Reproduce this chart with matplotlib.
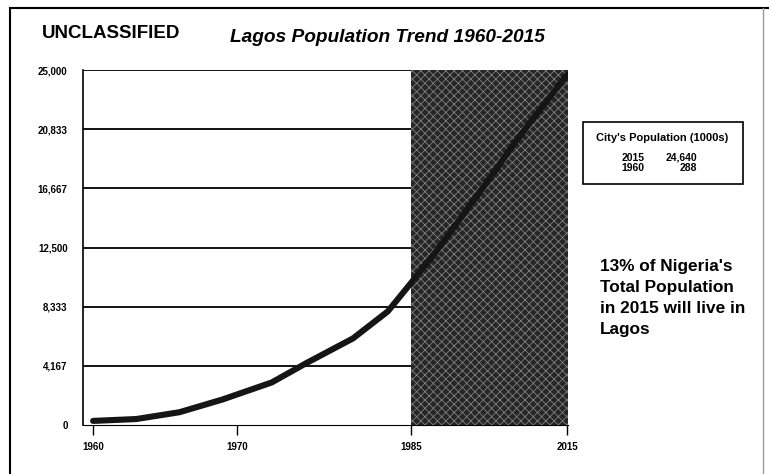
import matplotlib.pyplot as plt
import numpy as np
from matplotlib.patches import Rectangle
from matplotlib.lines import Line2D

# data (population in 1000s)
years = [1960, 1963, 1966, 1969, 1973, 1976, 1980, 1983, 1985, 1990, 1995, 2000, 2005, 2010, 2015]
pop = [288, 420, 900, 1800, 3000, 4370, 6100, 8000, 10000, 12300, 14800, 17300, 19900, 22300, 24640]
xticks = [1960, 1970, 1985, 2015]
yticks = [0, 4167, 8333, 12500, 16667, 20833, 25000]
ytick_labels = ["0", "4,167", "8,333", "12,500", "16,667", "20,833", "25,000"]
forecast_start = 1985
table_rows = [("2015", "24,640"), ("1960", "288")]

# the original x axis is not linear: piecewise spacing between the labelled years
knot_years = np.array([1960, 1970, 1985, 2015], dtype=float)
knot_pos = np.array([0, 144, 318, 474], dtype=float)


def _pw(x, a, b):
    x = np.asarray(x, dtype=float)
    out = np.interp(x, a, b)
    lo = (b[1] - b[0]) / (a[1] - a[0])
    hi = (b[-1] - b[-2]) / (a[-1] - a[-2])
    out = np.where(x < a[0], b[0] + (x - a[0]) * lo, out)
    out = np.where(x > a[-1], b[-1] + (x - a[-1]) * hi, out)
    return out


def fwd(x):
    return _pw(x, knot_years, knot_pos)


def inv(p):
    return _pw(p, knot_pos, knot_years)


plt.rcParams["font.family"] = ["Liberation Sans", "DejaVu Sans"]
plt.rcParams["hatch.linewidth"] = 0.6

fig = plt.figure(figsize=(7.69, 4.74), dpi=100)
ax = fig.add_axes([83 / 769, 1 - 425 / 474, (568 - 83) / 769, (425 - 70) / 474])
ax.set_xscale("function", functions=(fwd, inv))
ax.set_xlim(1959.3, 2015.2)
ax.set_ylim(0, 25000)

# gridlines
for v in yticks[1:]:
    ax.axhline(v, color="black", lw=1.3, zorder=1)

# forecast shading
ax.axvspan(forecast_start, 2015.2, facecolor="#262626", edgecolor="#808080",
           hatch="xxxx", lw=0, zorder=2)

ax.plot(years, pop, color="#151515", lw=4.4, solid_capstyle="round",
        solid_joinstyle="round", zorder=3)

for s in ["top", "right"]:
    ax.spines[s].set_visible(False)
ax.spines["left"].set_linewidth(1.2)
ax.spines["bottom"].set_linewidth(0.8)

ax.set_yticks(yticks)
ax.set_yticklabels(ytick_labels)
ax.tick_params(axis="y", length=0, pad=11, labelsize=7)
ax.set_xticks(xticks)
ax.set_xticklabels([str(y) for y in xticks])
ax.tick_params(axis="x", length=7, width=1, pad=5, labelsize=7)
for lab in ax.get_xticklabels() + ax.get_yticklabels():
    lab.set_fontweight("bold")

# header texts
fig.text(42 / 769, 1 - 33 / 474, "UNCLASSIFIED", fontsize=13.5, fontweight="bold",
         ha="left", va="center")
fig.text(230 / 769, 1 - 38 / 474, "Lagos Population Trend 1960-2015", fontsize=13.8,
         fontweight="bold", fontstyle="italic", ha="left", va="center")

# small table box
fig.patches.append(Rectangle((583 / 769, 1 - 184 / 474), 160 / 769, 62 / 474,
                             transform=fig.transFigure, fill=False, lw=1.2,
                             edgecolor="black"))
fig.text(662 / 769, 1 - 138 / 474, "City's Population (1000s)", fontsize=8,
         fontweight="bold", ha="center", va="center")
for i, (yr, val) in enumerate(table_rows):
    yy = 1 - (158 + 10 * i) / 474
    fig.text(633 / 769, yy, yr, fontsize=7.5, fontweight="bold", ha="center", va="center")
    fig.text(697 / 769, yy, val, fontsize=7.5, fontweight="bold", ha="right", va="center")

fig.text(600 / 769, 1 - 259 / 474,
         "13% of Nigeria's\nTotal Population\nin 2015 will live in\nLagos",
         fontsize=12.4, fontweight="bold", ha="left", va="top", linespacing=1.5)

# outer frame
fig.add_artist(Line2D([10 / 769, 10 / 769], [0, 1 - 8 / 474], transform=fig.transFigure,
                      color="black", lw=1.5))
fig.add_artist(Line2D([10 / 769, 1], [1 - 8 / 474, 1 - 8 / 474], transform=fig.transFigure,
                      color="black", lw=1.5))
fig.add_artist(Line2D([763 / 769, 763 / 769], [0, 1 - 8 / 474], transform=fig.transFigure,
                      color="#999999", lw=1.0))

fig.savefig("out.png", dpi=100)
